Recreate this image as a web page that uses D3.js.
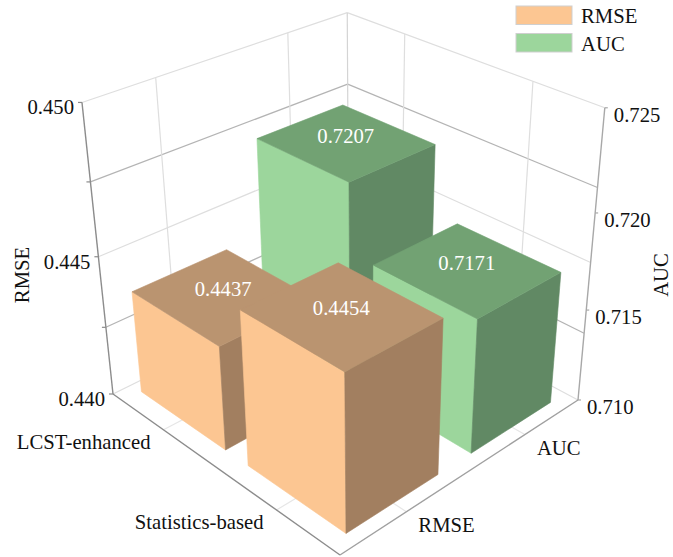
<!DOCTYPE html>
<html>
<head>
<meta charset="utf-8">
<title>RMSE and AUC</title>
<script src="https://cdn.jsdelivr.net/npm/d3@7"></script>
<style>
  body { margin: 0; background: #fff; }
  svg { display: block; }
  text { font-family: "Liberation Serif", serif; font-size: 20.7px; fill: #111; }
</style>
</head>
<body>
<div id="chart"></div>
<script>
// front to back along the floor
const categories = ["Statistics-based", "LCST-enhanced"];
const metrics = ["RMSE", "AUC"];
const rmseValues = [0.4454, 0.4437];
const aucValues = [0.7171, 0.7207];
const rmseGrid = [0.44, 0.4425, 0.445, 0.4475, 0.45];
const rmseLabels = [0.44, 0.445, 0.45];
const aucLabels = [0.71, 0.715, 0.72, 0.725];

const width = 673;
const height = 557;

const colors = {
  RMSE: { front: "#fcc692", top: "#ba9470", side: "#a27f60" },
  AUC: { front: "#9cd69c", top: "#72a273", side: "#618964" },
};

const svg = d3
  .select("#chart")
  .append("svg")
  .attr("width", width)
  .attr("height", height);

const catScale = d3.scaleBand().domain(categories).range([0, 1]).paddingInner(0.2).paddingOuter(0.1);
const metricScale = d3.scaleBand().domain(metrics).range([0, 1]).paddingInner(0.28).paddingOuter(0.14);
const rmseScale = d3.scaleLinear().domain([0.44, 0.45]).range([0, 1]);
const aucScale = d3.scaleLinear().domain([0.71, 0.725]).range([0, 1]);
const valueScale = { RMSE: rmseScale, AUC: aucScale };

// perspective of the box: front floor corner, the corner reached along each axis, and its weight
const origin = [340, 555];
const cornerU = [113, 394];
const cornerV = [578, 400];
const cornerW = [336.6, 232];
const wU = 1.165;
const wV = 1.16;
const wW = 0.8714;

function project(u, v, w) {
  const den = 1 + u * (wU - 1) + v * (wV - 1) + w * (wW - 1);
  const at = (i) =>
    origin[i] +
    u * (wU * cornerU[i] - origin[i]) +
    v * (wV * cornerV[i] - origin[i]) +
    w * (wW * cornerW[i] - origin[i]);
  return [at(0) / den, at(1) / den];
}

const line = d3.line();

function seg(a, b, stroke, sw) {
  return plot
    .append("path")
    .attr("d", line([project(...a), project(...b)]))
    .attr("fill", "none")
    .attr("stroke", stroke)
    .attr("stroke-width", sw);
}

const plot = svg.append("g").style("filter", "blur(0.4px)");

// walls and floor grid
rmseGrid.forEach((d, i) => {
  const w = rmseScale(d);
  const stroke = i % 2 ? "#b4b4b4" : "#dedede";
  seg([1, 0, w], [1, 1, w], stroke, 1.2);
  seg([0, 1, w], [1, 1, w], stroke, 1.2);
});
metrics.forEach((m) => {
  const v = metricScale(m) + metricScale.bandwidth() / 2;
  seg([1, v, 0], [1, v, 1], "#dedede", 1.2);
  seg([0, v, 0], [1, v, 0], "#e6e6e6", 1.2);
});
categories.forEach((c) => {
  const u = catScale(c) + catScale.bandwidth() / 2;
  seg([u, 1, 0], [u, 1, 1], "#dedede", 1.2);
  seg([u, 0, 0], [u, 1, 0], "#e6e6e6", 1.2);
});
seg([1, 1, 0], [1, 1, 1], "#d4d4d4", 1.2);

// axes
seg([1, 0, 0], [1, 0, 1], "#8c8c8c", 1.4);
seg([0, 1, 0], [0, 1, 1], "#a8a8a8", 1.4);
seg([0, 0, 0], [1, 0, 0], "#8c8c8c", 1.4);
seg([0, 0, 0], [0, 1, 0], "#a0a0a0", 1.4);

rmseGrid.forEach((d) => {
  const p = project(1, 0, rmseScale(d));
  plot.append("path").attr("d", line([p, [p[0] - 4, p[1]]])).attr("stroke", "#8c8c8c").attr("stroke-width", 1.2);
});
aucLabels.forEach((d) => {
  const p = project(0, 1, aucScale(d));
  plot.append("path").attr("d", line([p, [p[0] + 3, p[1]]])).attr("stroke", "#a8a8a8").attr("stroke-width", 1.2);
});

// bars, far ones first
const bars = [];
categories.forEach((c, i) => {
  bars.push({ category: c, metric: "RMSE", value: rmseValues[i] });
  bars.push({ category: c, metric: "AUC", value: aucValues[i] });
});
bars.sort((a, b) => catScale(b.category) - catScale(a.category) || metricScale(b.metric) - metricScale(a.metric));

function face(points, fill) {
  plot
    .append("path")
    .attr("d", line(points.map((p) => project(...p))) + "Z")
    .attr("fill", fill)
    .attr("stroke", fill)
    .attr("stroke-width", 0.6);
}

bars.forEach((d) => {
  const u0 = catScale(d.category);
  const u1 = u0 + catScale.bandwidth();
  const v0 = metricScale(d.metric);
  const v1 = v0 + metricScale.bandwidth();
  const h = valueScale[d.metric](d.value);
  const c = colors[d.metric];
  face([[u0, v0, 0], [u1, v0, 0], [u1, v0, h], [u0, v0, h]], c.front);
  face([[u0, v0, 0], [u0, v1, 0], [u0, v1, h], [u0, v0, h]], c.side);
  face([[u0, v0, h], [u1, v0, h], [u1, v1, h], [u0, v1, h]], c.top);
});

// value labels
bars.forEach((d) => {
  const u = catScale(d.category) + catScale.bandwidth() / 2;
  const v = metricScale(d.metric) + metricScale.bandwidth() / 2;
  const p = project(u, v, valueScale[d.metric](d.value));
  svg
    .append("text")
    .attr("x", p[0])
    .attr("y", p[1] + 1)
    .attr("text-anchor", "middle")
    .style("fill", "#fff")
    .text(d.value.toFixed(4));
});

// tick labels
rmseLabels.forEach((d) => {
  const p = project(1, 0, rmseScale(d));
  svg.append("text").attr("x", p[0] - 8).attr("y", p[1] + 12).attr("text-anchor", "end").text(d.toFixed(3));
});
aucLabels.forEach((d) => {
  const p = project(0, 1, aucScale(d));
  svg.append("text").attr("x", p[0] + 9).attr("y", p[1] + 14).text(d.toFixed(3));
});
categories.forEach((c) => {
  const p = project(catScale(c) + catScale.bandwidth() / 2, 0, 0);
  svg.append("text").attr("x", p[0] - 13).attr("y", p[1] + 19).attr("text-anchor", "end").text(c);
});
metrics.forEach((m) => {
  const p = project(0, metricScale(m) + metricScale.bandwidth() / 2, 0);
  svg.append("text").attr("x", p[0] + 12).attr("y", p[1] + 20).text(m);
});

// axis titles
svg.append("text").attr("transform", "translate(29,275) rotate(-90)").attr("text-anchor", "middle").text("RMSE");
svg.append("text").attr("transform", "translate(668,275) rotate(-90)").attr("text-anchor", "middle").text("AUC");

// legend
const legend = svg.selectAll(".legend").data(metrics).enter().append("g").attr("class", "legend")
  .attr("transform", (d, i) => `translate(516,${6 + i * 27.5})`);
legend.append("rect").attr("width", 56).attr("height", 18.5)
  .attr("fill", (d) => colors[d].front).attr("stroke", "#cfcfcf").attr("stroke-width", 1);
legend.append("text").attr("x", 65).attr("y", 17).text((d) => d);
</script>
</body>
</html>
